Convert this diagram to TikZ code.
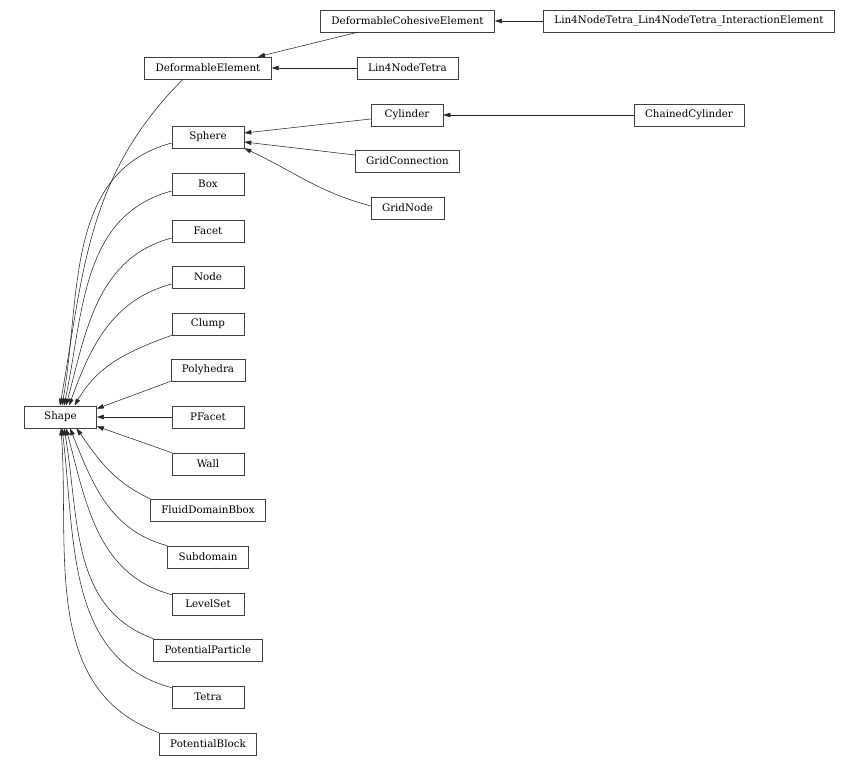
\documentclass[tikz,border=0pt]{standalone}
\usepackage{fontspec}
\setmainfont{DejaVu Serif}
\usepackage{tikz}
\usetikzlibrary{arrows.meta}

\begin{document}
\begin{tikzpicture}[
    x=1pt, y=1pt,
    cls/.style={rectangle, draw=black!75, line width=0.6pt, minimum width=72pt,
        minimum height=22pt, inner xsep=11pt, inner ysep=0pt,
        font=\fontsize{10.3}{12}\selectfont},
    inh/.style={draw=black!85, line width=0.55pt,
        -{Triangle[length=7pt, width=4.5pt]}},
]
    \useasboundingbox (0,0) rectangle (860,766);

    % base class
    \node [cls] (shape) at (60.5,349) {Shape};

    % derived classes
    \node [cls] (defcoh)    at (407.5,745) {DeformableCohesiveElement};
    \node [cls] (lin4ie)    at (689,745)   {Lin4NodeTetra\_Lin4NodeTetra\_InteractionElement};
    \node [cls] (defel)     at (208,698)   {DeformableElement};
    \node [cls] (lin4)      at (407.5,698) {Lin4NodeTetra};
    \node [cls] (cylinder)  at (407,651)   {Cylinder};
    \node [cls] (chained)   at (689,651)   {ChainedCylinder};
    \node [cls] (sphere)    at (208,629)   {Sphere};
    \node [cls] (gridconn)  at (407.5,605) {GridConnection};
    \node [cls] (gridnode)  at (407.5,558) {GridNode};
    \node [cls] (box)       at (208,582)   {Box};
    \node [cls] (facet)     at (208,535)   {Facet};
    \node [cls] (node)      at (208,489)   {Node};
    \node [cls] (clump)     at (208,442)   {Clump};
    \node [cls] (polyhedra) at (208,396)   {Polyhedra};
    \node [cls] (pfacet)    at (208,349)   {PFacet};
    \node [cls] (wall)      at (208,302)   {Wall};
    \node [cls] (fluid)     at (208,256)   {FluidDomainBbox};
    \node [cls] (subdomain) at (208,209)   {Subdomain};
    \node [cls] (levelset)  at (208,162)   {LevelSet};
    \node [cls] (potpart)   at (208,116)   {PotentialParticle};
    \node [cls] (tetra)     at (208,69)    {Tetra};
    \node [cls] (potblock)  at (208,22)    {PotentialBlock};

    % second level
    \draw [inh] (lin4ie) -- (defcoh);
    \draw [inh] ([xshift=-50pt]defcoh.south) -- ([xshift=50pt]defel.north);
    \draw [inh] (lin4) -- (defel);
    \draw [inh] (chained) -- (cylinder);
    \draw [inh] ([yshift=-4pt]cylinder.west) -- ([yshift=4pt]sphere.east);
    \draw [inh] ([yshift=6pt]gridconn.west) -- ([yshift=-5pt]sphere.east);
    \draw [inh] ([yshift=2pt]gridnode.west) to[out=165, in=-25] (sphere.south east);

    % upper children of Shape
    \draw [inh] ([xshift=-25pt]defel.south) to[out=225, in=80] ([xshift=-0.5pt]shape.north);
    \draw [inh] ([yshift=-6pt]sphere.west) to[out=195, in=80] ([xshift=1.5pt]shape.north);
    \draw [inh] ([yshift=-7pt]box.west) to[out=195, in=78] ([xshift=3.5pt]shape.north);
    \draw [inh] ([yshift=-7pt]facet.west) to[out=195, in=75] ([xshift=5.5pt]shape.north);
    \draw [inh] ([yshift=-7pt]node.west) to[out=195, in=70] ([xshift=8.5pt]shape.north);
    \draw [inh] (clump.south west) to[out=200, in=60] ([xshift=14pt]shape.north);
    \draw [inh] (polyhedra.south west) -- ([yshift=-3pt]shape.north east);
    \draw [inh] (pfacet) -- (shape);
    \draw [inh] (wall.north west) -- ([yshift=2pt]shape.south east);

    % lower children of Shape
    \draw [inh] (fluid.north west) to[out=155, in=-55] ([xshift=16pt]shape.south);
    \draw [inh] (subdomain.north west) to[out=165, in=-68] ([xshift=9.5pt]shape.south);
    \draw [inh] ([yshift=-2pt]levelset.north west) to[out=165, in=-75] ([xshift=5.5pt]shape.south);
    \draw [inh] (potpart.north west) to[out=160, in=-80] ([xshift=3.5pt]shape.south);
    \draw [inh] ([yshift=-2pt]tetra.north west) to[out=165, in=-83] ([xshift=1.5pt]shape.south);
    \draw [inh] (potblock.north west) to[out=160, in=-86] ([xshift=0.5pt]shape.south);
\end{tikzpicture}
\end{document}
